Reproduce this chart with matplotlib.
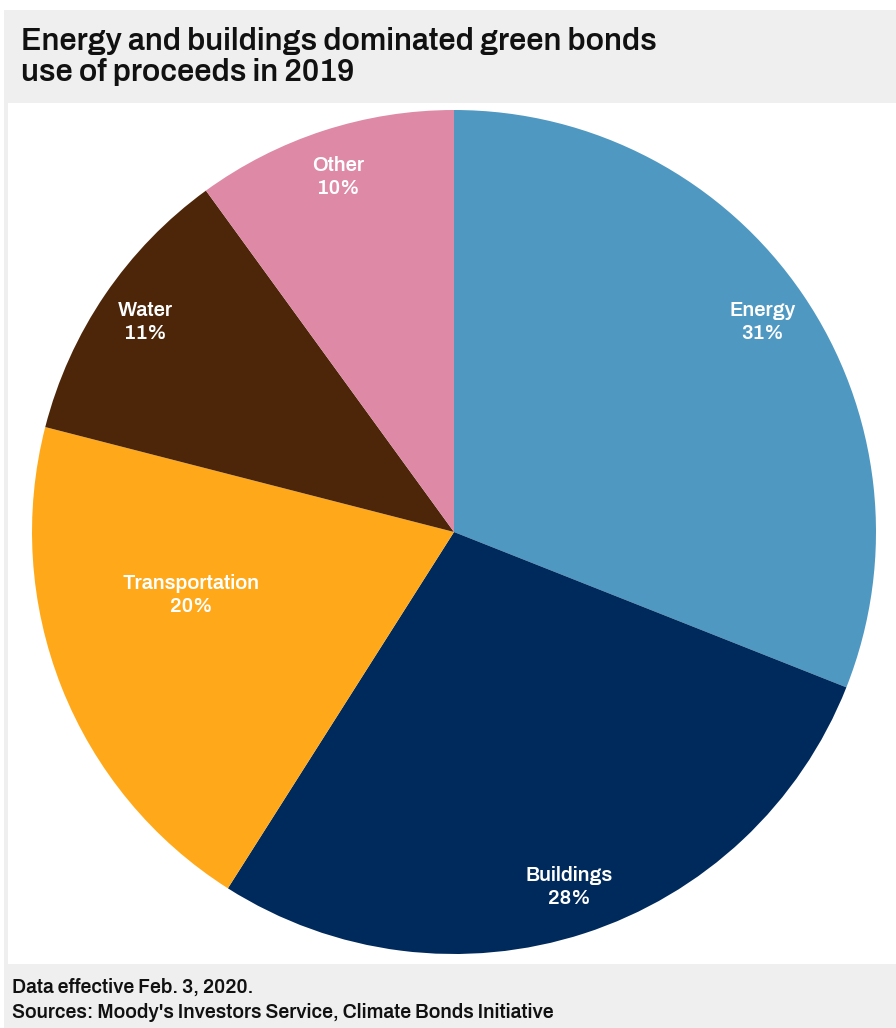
import numpy as np
import matplotlib
matplotlib.use("Agg")
from matplotlib import pyplot as plt
from matplotlib.patches import Rectangle

# =============================================================================
# Data
# =============================================================================
categories = ["Energy", "Buildings", "Transportation", "Water", "Other"]
shares = [31, 28, 20, 11, 10]
colors = ["#4f98c2", "#002a5c", "#ffa91a", "#4d2609", "#de89a5"]

title = "Energy and buildings dominated green bonds\nuse of proceeds in 2019"
footer = ["Data effective Feb. 3, 2020.",
          "Sources: Moody's Investors Service, Climate Bonds Initiative"]

font = ["Archivo", "DejaVu Sans"]

W, H = 896, 1028
fig = plt.figure(figsize=(W / 100, H / 100), dpi=100)
fig.patch.set_facecolor("white")

# background bands
fig.patches.append(Rectangle((4 / W, 0), 1, (H - 10) / H, transform=fig.transFigure,
                             facecolor="#efefef", edgecolor="none", zorder=0))
fig.patches.append(Rectangle((8 / W, (H - 964) / H), 1, (964 - 103) / H,
                             transform=fig.transFigure, facecolor="white",
                             edgecolor="none", zorder=0))

fig.text(21 / W, 1 - 27 / H, title, ha="left", va="top", fontsize=22,
         fontweight="bold", family=font, linespacing=1.12, color="#111111")
fig.text(12 / W, 1 - 987 / H, footer[0], ha="left", va="center", fontsize=14,
         fontweight="light", family=font, color="#111111")
fig.text(12 / W, 1 - 1012 / H, footer[1], ha="left", va="center", fontsize=14,
         fontweight="light", family=font, color="#111111")

# pie axes
cx, cy, r = 454, 532, 422
ax = fig.add_axes([(cx - r) / W, (H - cy - r) / H, 2 * r / W, 2 * r / H])
ax.set_zorder(2)
wedges, texts = ax.pie(shares, colors=colors, startangle=90, counterclock=False,
                       radius=1, wedgeprops=dict(linewidth=0))
ax.set_xlim(-1, 1)
ax.set_ylim(-1, 1)
ax.set_aspect("equal")
ax.axis("off")

for w, name, val in zip(wedges, categories, shares):
    ang = np.deg2rad((w.theta1 + w.theta2) / 2)
    d = 0.885
    if name == "Transportation":
        ang = np.deg2rad(-166.5)
        d = 0.64
    ax.text(d * np.cos(ang), d * np.sin(ang), "{}\n{}%".format(name, val),
            ha="center", va="center", color="white", fontsize=14.5,
            fontweight="medium", family=font, linespacing=1.3)

fig.savefig("out.png", dpi=100)
